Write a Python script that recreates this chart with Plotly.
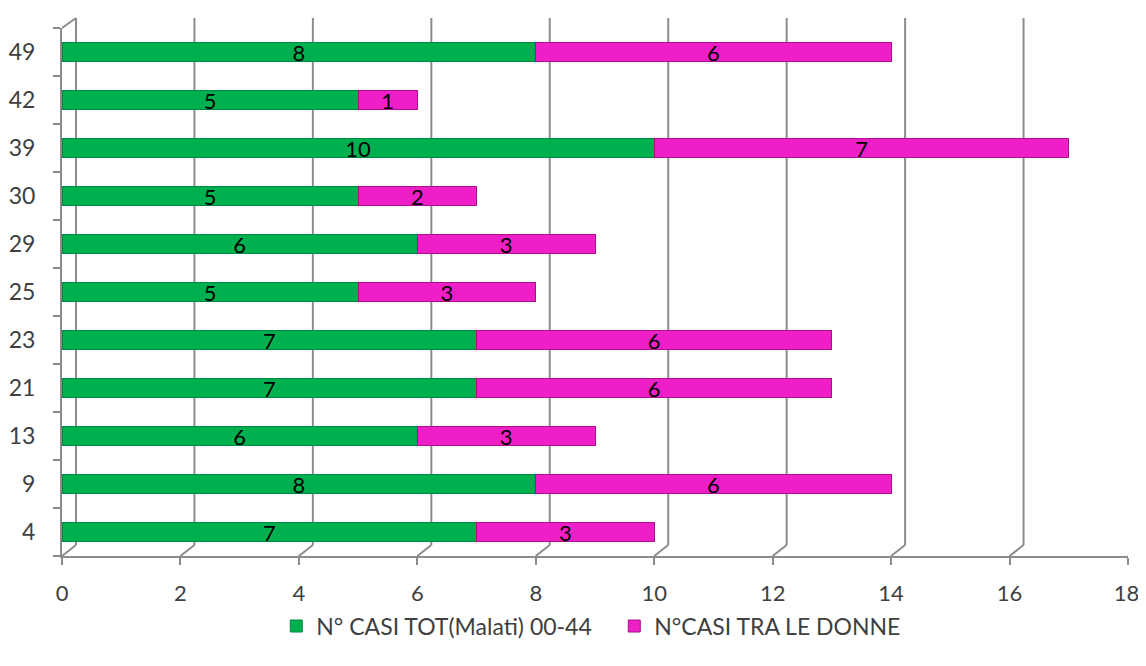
import plotly.graph_objects as go

categories = ["4", "9", "13", "21", "23", "25", "29", "30", "39", "42", "49"]
tot_malati = [7, 8, 6, 7, 7, 5, 6, 5, 10, 5, 8]
casi_donne = [3, 6, 3, 6, 6, 3, 3, 2, 7, 1, 6]
x_ticks = [0, 2, 4, 6, 8, 10, 12, 14, 16, 18]
x_tick_labels = ["0", "2", "4", "6", "8", "10", "12", "14", "16", "18\u2009"]

GREEN = "#00B050"
GREEN_DARK = "#00873C"
MAG = "#EE1FC6"
MAG_DARK = "#A8108C"
GRID = "#8C8C8C"
FONT = "Lato"

fig = go.Figure()
for vals, name, col, dark in [(tot_malati, "N° CASI TOT(Malati) 00-44", GREEN, GREEN_DARK),
                              (casi_donne, "N°CASI TRA LE DONNE", MAG, MAG_DARK)]:
    fig.add_trace(go.Bar(
        y=categories, x=vals, orientation="h", name=name,
        marker=dict(color=col, line=dict(color=dark, width=1)),
        text=vals, textposition="inside", insidetextanchor="middle",
        textangle=0, constraintext="none", cliponaxis=False,
        textfont=dict(color="black", size=22, family=FONT), width=0.41,
    ))

shapes = []
# back-wall gridlines (pseudo 3D) and floor diagonals
for t in x_ticks:
    shapes.append(dict(type="line", xref="x", yref="y domain", xsizemode="pixel", xanchor=t,
                       ysizemode="pixel", yanchor=0,
                       x0=14, x1=14, y0=11, y1=538,
                       line=dict(color=GRID, width=2), layer="below"))
    shapes.append(dict(type="line", xref="x", yref="y domain", xsizemode="pixel", xanchor=t,
                       ysizemode="pixel", yanchor=0,
                       x0=0, x1=14, y0=0, y1=11,
                       line=dict(color=GRID, width=2), layer="below"))
# left wall top diagonal
shapes.append(dict(type="line", xref="x", yref="y domain", xsizemode="pixel", xanchor=0,
                   ysizemode="pixel", yanchor=1,
                   x0=0, x1=14, y0=0, y1=10,
                   line=dict(color=GRID, width=2), layer="below"))

fig.update_layout(
    width=1138, height=658,
    margin=dict(l=54, r=18, t=20, b=110, autoexpand=False),
    paper_bgcolor="white", plot_bgcolor="rgba(0,0,0,0)",
    barmode="stack",
    font=dict(family=FONT, color="#404040", size=22),
    showlegend=True,
    legend=dict(orientation="h", x=0.201, xanchor="left", y=-0.092, yanchor="top",
                font=dict(size=23, color="#404040", family=FONT), traceorder="normal",
                itemwidth=30, entrywidth=293),
    shapes=shapes,
)
fig.update_xaxes(range=[0, 18], tickvals=x_ticks, ticktext=x_tick_labels,
                 showgrid=False, zeroline=False,
                 showline=True, linecolor=GRID, linewidth=2, ticks="outside",
                 tickcolor=GRID, ticklen=7, tickwidth=2, automargin=False,
                 ticklabelstandoff=10,
                 tickfont=dict(size=22, color="#404040", family=FONT))
fig.update_yaxes(categoryorder="array", categoryarray=categories, showgrid=False,
                 showline=True, linecolor=GRID, linewidth=2, ticks="outside",
                 tickson="boundaries", tickcolor=GRID, ticklen=7, tickwidth=2,
                 automargin=False, ticklabelstandoff=20,
                 tickfont=dict(size=23, color="#404040", family=FONT))

fig.write_html("out.html")
